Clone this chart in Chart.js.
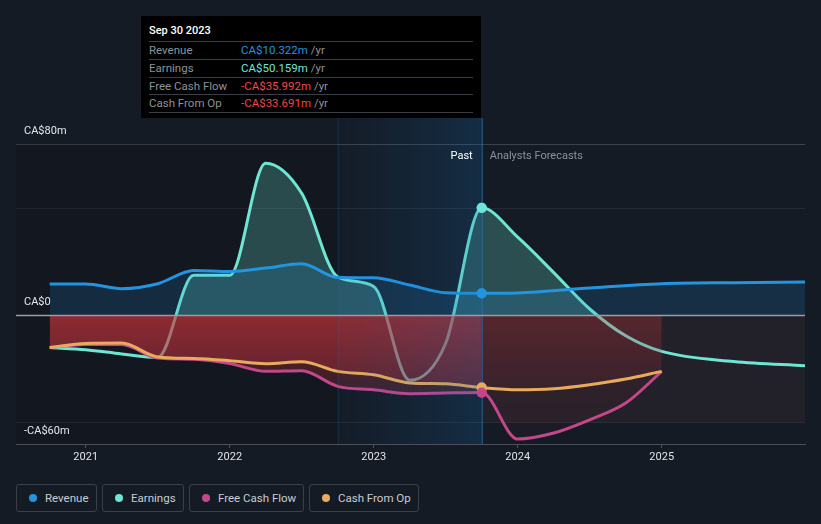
<!DOCTYPE html>
<html>
<head>
<meta charset="utf-8">
<script src="https://cdn.jsdelivr.net/npm/chart.js@4.4.0/dist/chart.umd.min.js"></script>
<style>
  body { margin: 0; background: #151b25; font-family: Roboto, "Noto Sans", sans-serif; width: 821px; height: 524px; overflow: hidden; position: relative; }
  #wrap { position: absolute; left: 0; top: 0; width: 821px; height: 474px; }
  .tip { position: absolute; left: 141px; top: 16px; width: 340px; height: 102px; background: #000; color: #fff; font-size: 11.5px; }
  .tip .title { position: absolute; left: 8px; top: 8px; font-size: 11px; font-weight: 500; }
  .tip .rows { position: absolute; left: 8px; top: 25px; width: 324px; border-bottom: 1px solid #3b3e44; }
  .tip .row { height: 16.75px; line-height: 17px; border-top: 1px solid #3b3e44; color: #8e929a; position: relative; }
  .tip .row span.v { position: absolute; left: 92px; }
  .tip .row span.u { color: #8e929a; }
  .legend { position: absolute; left: 16px; top: 484px; display: flex; gap: 5px; }
  .legend div { box-sizing: border-box; height: 28px; border: 1px solid #3a3f49; border-radius: 3px; display: flex; align-items: center; padding-left: 12px; color: #c9ccd2; font-size: 11.5px; white-space: nowrap; }
  .legend i { width: 8px; height: 8px; border-radius: 50%; display: inline-block; margin-right: 8px; }
</style>
</head>
<body>
<div id="wrap"><canvas id="myChart"></canvas></div>

<div class="tip">
  <div class="title">Sep 30 2023</div>
  <div class="rows">
    <div class="row">Revenue<span class="v"><span style="color:#2394df">CA$10.322m</span> <span class="u">/yr</span></span></div>
    <div class="row">Earnings<span class="v"><span style="color:#6ee6d4">CA$50.159m</span> <span class="u">/yr</span></span></div>
    <div class="row">Free Cash Flow<span class="v"><span style="color:#f04848">-CA$35.992m</span> <span class="u">/yr</span></span></div>
    <div class="row">Cash From Op<span class="v"><span style="color:#f04848">-CA$33.691m</span> <span class="u">/yr</span></span></div>
  </div>
</div>

<div class="legend">
  <div style="width:81px"><i style="background:#2394df"></i>Revenue</div>
  <div style="width:82px"><i style="background:#6ee6d4"></i>Earnings</div>
  <div style="width:115px"><i style="background:#c4478a"></i>Free Cash Flow</div>
  <div style="width:110px"><i style="background:#e8aa5c"></i>Cash From Op</div>
</div>

<script>
// past values, quarterly (CA$m)
const pastYears = [2020.75, 2021, 2021.25, 2021.5, 2021.75, 2022, 2022.25, 2022.5, 2022.75, 2023, 2023.25, 2023.5, 2023.75];
const revenuePast = [14.7, 14.7, 12.5, 14.8, 21.0, 20.5, 22.1, 24.1, 17.7, 17.6, 14.2, 10.6, 10.3];
const earningsPast = [-15, -16, -18, -19.6, 18.7, 18.7, 71, 57, 18, 13.5, -30.3, -13, 50.2];
const fcfPast = [-15, -13.6, -13.6, -19.9, -20.5, -22.5, -26.1, -25.8, -33.1, -34.7, -36.5, -36.2, -36.0];
const cfoPast = [-15, -13.1, -12.9, -19.4, -20.1, -21.1, -22.5, -21.6, -26.1, -27.7, -31.5, -31.9, -33.7];

// analyst forecasts
const revenueFcYears = [2024, 2024.5, 2025, 2025.5, 2026];
const revenueFc = [10.5, 12.8, 14.8, 15.3, 15.6];
const earningsFcYears = [2024, 2024.25, 2024.5, 2024.75, 2025, 2025.5, 2026];
const earningsFc = [36.5, 20, 3, -9.5, -16.8, -21.5, -23.5];
const cashFcYears = [2024, 2024.25, 2024.5, 2024.75, 2025];
const fcfFc = [-57.7, -54.9, -48.7, -40.9, -26.1];
const cfoFc = [-34.7, -34.2, -32.3, -29.7, -26.1];

const xTicks = [2021, 2022, 2023, 2024, 2025];
const yTicks = [-60, -50, 0, 50, 80];
const yLabels = { 80: 'CA$80m', 0: 'CA$0', '-60': '-CA$60m' };

const nowX = 2023.75;
const shadeFrom = 2022.75;

function pts(xs, ys) {
    return xs.map((x, i) => ({ x: x, y: ys[i] }));
}

const dotRadius = ctx => (ctx.raw && ctx.raw.x === nowX ? 4.5 : 0);

// red fill gradients, made once so segments with the same fill are merged
let grads = null;
function redFill(chart, forecast) {
    const { ctx, scales } = chart;
    if (!scales || !scales.y) return 'rgba(200,50,60,0.3)';
    if (!grads) {
        const make = (a0, a1) => {
            const g = ctx.createLinearGradient(0, scales.y.getPixelForValue(0), 0, scales.y.getPixelForValue(-45));
            g.addColorStop(0, 'rgba(205,52,58,' + a0 + ')');
            g.addColorStop(1, 'rgba(170,45,60,' + a1 + ')');
            return g;
        };
        grads = { past: make(0.42, 0.22), fc: make(0.17, 0.06) };
    }
    return forecast ? grads.fc : grads.past;
}

const redSegment = {
    backgroundColor: ctx => redFill(ctx.chart, ctx.p0.parsed.x >= nowX)
};

// extra drawing: region shades, zero line, labels
const decor = {
    id: 'decor',
    beforeDatasetsDraw(chart) {
        const { ctx, chartArea, scales: { x, y } } = chart;
        const x0 = x.getPixelForValue(shadeFrom), x1 = x.getPixelForValue(nowX);
        ctx.save();
        ctx.fillStyle = 'rgba(0,0,0,0.13)';
        ctx.fillRect(chartArea.left, chartArea.top, x0 - chartArea.left, chartArea.bottom - chartArea.top);
        ctx.fillStyle = 'rgba(100,60,60,0.17)';
        ctx.fillRect(x1, y.getPixelForValue(0), chartArea.right - x1, y.getPixelForValue(-50) - y.getPixelForValue(0));
        ctx.restore();
    },
    afterDatasetsDraw(chart) {
        const { ctx, chartArea, scales: { x, y } } = chart;
        const x0 = x.getPixelForValue(shadeFrom), x1 = x.getPixelForValue(nowX);
        const top = chartArea.top - 26;
        ctx.save();
        const g = ctx.createLinearGradient(x0, 0, x1, 0);
        g.addColorStop(0, 'rgba(20,100,170,0.02)');
        g.addColorStop(1, 'rgba(20,110,180,0.22)');
        ctx.fillStyle = g;
        ctx.fillRect(x0, top, x1 - x0, chartArea.bottom - top);
        ctx.strokeStyle = 'rgba(40,100,150,0.3)';
        ctx.lineWidth = 1;
        ctx.beginPath();
        ctx.moveTo(x0 + 0.5, top); ctx.lineTo(x0 + 0.5, chartArea.bottom);
        ctx.stroke();
        ctx.strokeStyle = 'rgba(45,110,165,0.9)';
        ctx.beginPath();
        ctx.moveTo(x1 + 0.5, top); ctx.lineTo(x1 + 0.5, chartArea.bottom);
        ctx.stroke();

        // zero line
        const z = y.getPixelForValue(0);
        ctx.strokeStyle = '#9a9da3';
        ctx.lineWidth = 1.5;
        ctx.beginPath();
        ctx.moveTo(chartArea.left, z); ctx.lineTo(chartArea.right, z);
        ctx.stroke();

        // markers for the latest reported values on top
        chart.getSortedVisibleDatasetMetas().forEach(meta => {
            meta.data.forEach(pt => {
                if (pt.options && pt.options.radius > 0) pt.draw(ctx, chartArea);
            });
        });

        ctx.font = '11px Roboto';
        ctx.textBaseline = 'middle';
        ctx.fillStyle = '#e4e6ea';
        for (const v of Object.keys(yLabels)) {
            ctx.textAlign = 'left';
            ctx.fillText(yLabels[v], chartArea.left + 8, y.getPixelForValue(+v) - 13);
        }
        ctx.textAlign = 'right';
        ctx.fillStyle = '#ffffff';
        ctx.fillText('Past', x1 - 9, chartArea.top + 12);
        ctx.textAlign = 'left';
        ctx.fillStyle = '#8c9099';
        ctx.fillText('Analysts Forecasts', x1 + 8, chartArea.top + 12);
        ctx.restore();
    }
};

const chart = document.getElementById('myChart').getContext('2d');
const myChart = new Chart(chart, {
    type: 'line',
    data: {
        datasets: [{
            label: 'Revenue',
            data: pts(pastYears, revenuePast).concat(pts(revenueFcYears, revenueFc)),
            borderColor: '#2394df',
            backgroundColor: 'rgba(35,148,223,0.17)',
            pointBackgroundColor: '#2394df',
            fill: { target: 'origin', above: 'rgba(35,148,223,0.17)', below: 'rgba(0,0,0,0)' },
            order: 3
        }, {
            label: 'Earnings',
            data: pts(pastYears, earningsPast).concat(pts(earningsFcYears, earningsFc)),
            borderColor: '#6ee6d4',
            backgroundColor: 'rgba(110,230,212,0.25)',
            pointBackgroundColor: '#6ee6d4',
            fill: { target: 'origin', above: 'rgba(110,230,212,0.25)', below: 'rgba(0,0,0,0)' },
            order: 4
        }, {
            label: 'Free Cash Flow',
            data: pts(pastYears, fcfPast).concat(pts(cashFcYears, fcfFc)),
            borderColor: '#c4478a',
            backgroundColor: 'rgba(200,50,60,0.3)',
            pointBackgroundColor: '#c4478a',
            fill: 'origin',
            segment: redSegment,
            order: 2
        }, {
            label: 'Cash From Op',
            data: pts(pastYears, cfoPast).concat(pts(cashFcYears, cfoFc)),
            borderColor: '#e8aa5c',
            backgroundColor: 'rgba(200,50,60,0.3)',
            pointBackgroundColor: '#e8aa5c',
            fill: 'origin',
            segment: redSegment,
            order: 1
        }]
    },
    options: {
        responsive: true,
        maintainAspectRatio: false,
        animation: false,
        layout: { padding: { left: 16, right: 16, top: 144, bottom: 0 } },
        elements: {
            line: { borderWidth: 3, cubicInterpolationMode: 'monotone' },
            point: { radius: dotRadius, borderColor: '#ffffff', borderWidth: 1.2, hoverRadius: 0 }
        },
        scales: {
            x: {
                type: 'linear',
                min: 2020.516,
                max: 2025.995,
                afterBuildTicks: scale => { scale.ticks = xTicks.map(v => ({ value: v })); },
                afterFit: scale => { scale.height = 30; },
                ticks: { color: '#e0e2e6', font: { family: 'Roboto', size: 11 }, padding: 3, maxRotation: 0, callback: v => String(v) },
                grid: { drawOnChartArea: false, tickLength: 4, color: '#4a4f59' },
                border: { color: '#4a4f59' }
            },
            y: {
                min: -60,
                max: 80,
                afterBuildTicks: scale => { scale.ticks = yTicks.map(v => ({ value: v })); },
                afterFit: scale => { scale.width = 0; },
                ticks: { display: false },
                grid: {
                    drawTicks: false,
                    color: ctx => {
                        const v = ctx.tick.value;
                        if (v === 80) return '#3c424d';
                        if (v === 50 || v === -50) return '#252b36';
                        return 'rgba(0,0,0,0)';
                    }
                },
                border: { display: false }
            }
        },
        plugins: {
            legend: { display: false },
            tooltip: { enabled: false }
        }
    },
    plugins: [decor]
});
</script>
</body>
</html>
